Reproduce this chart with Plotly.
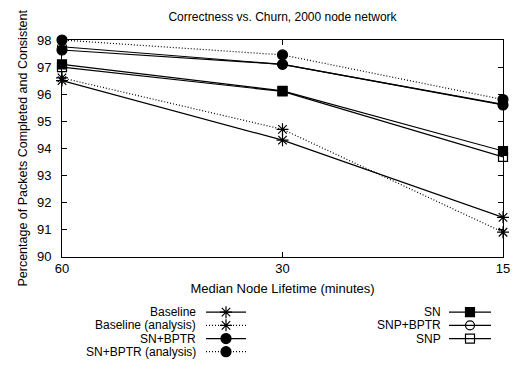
import plotly.graph_objects as go

# ---------------- data ----------------
x_labels = ["60", "30", "15"]
x_pos = [0, 1, 2]

baseline = [96.5, 94.3, 91.45]
baseline_analysis = [96.6, 94.7, 90.9]
sn_bptr = [97.63, 97.1, 95.6]
sn_bptr_analysis = [98.0, 97.45, 95.8]
sn = [97.1, 96.12, 93.9]
snp_bptr = [97.75, 97.1, 95.62]
snp = [97.0, 96.1, 93.68]

y_ticks = [90, 91, 92, 93, 94, 95, 96, 97, 98]

DOT = "1px,2px"
series = [
    # name, values, dash, symbol, size
    ("Baseline", baseline, "solid", "asterisk-open", 10),
    ("Baseline (analysis)", baseline_analysis, DOT, "asterisk-open", 10),
    ("SN+BPTR", sn_bptr, "solid", "circle", 10),
    ("SN+BPTR (analysis)", sn_bptr_analysis, DOT, "circle", 10),
    ("SN", sn, "solid", "square", 9),
    ("SNP+BPTR", snp_bptr, "solid", "circle-open", 9),
    ("SNP", snp, "solid", "square-open", 9),
]

# ---------------- layout constants (pixels) ----------------
W, H = 512, 368
L, R, T = 62, 9, 40
PLOT_BOTTOM = 262
plot_h_total = H - T
y_dom_low = (H - PLOT_BOTTOM) / plot_h_total

FONT = "Liberation Sans, Arial, Helvetica, sans-serif"

fig = go.Figure()

for name, vals, dash, sym, size in series:
    fig.add_trace(go.Scatter(
        x=x_pos, y=vals, mode="lines+markers", name=name,
        line=dict(color="black", width=1.2, dash=dash),
        marker=dict(symbol=sym, size=size, color="black",
                    line=dict(color="black", width=1.2)),
        showlegend=False, cliponaxis=False,
        xaxis="x", yaxis="y",
    ))

# ---------------- custom legend (text left, sample right) ----------------
left_col = {"text_right": 198, "line": (206, 246), "rows": [319, 332.5, 346, 359.5]}
right_col = {"text_right": 443, "line": (449, 491), "rows": [319, 332.5, 346]}
left_items = series[:4]
right_items = series[4:]

for col, items in ((left_col, left_items), (right_col, right_items)):
    x0, x1 = col["line"]
    xm = (x0 + x1) / 2
    for (name, vals, dash, sym, size), yy in zip(items, col["rows"]):
        fig.add_trace(go.Scatter(
            x=[x0, x1], y=[yy, yy], mode="lines",
            line=dict(color="black", width=1.2, dash=dash),
            showlegend=False, hoverinfo="skip", xaxis="x2", yaxis="y2",
        ))
        fig.add_trace(go.Scatter(
            x=[xm], y=[yy], mode="markers",
            marker=dict(symbol=sym, size=size, color="black",
                        line=dict(color="black", width=1.2)),
            showlegend=False, hoverinfo="skip", xaxis="x2", yaxis="y2",
        ))
        fig.add_annotation(
            x=col["text_right"], y=yy, xref="x2", yref="y2",
            text=name, showarrow=False, xanchor="right", yanchor="middle",
            font=dict(family=FONT, size=12, color="black"),
        )

fig.update_layout(
    width=W, height=H,
    margin=dict(l=L, r=R, t=T, b=0),
    paper_bgcolor="white", plot_bgcolor="white",
    font=dict(family=FONT, size=13, color="black"),
    title=dict(text="Correctness vs. Churn, 2000 node network",
               x=(L + (W - R)) / 2 / W, xanchor="center",
               y=1 - 17 / H, yanchor="middle",
               font=dict(family=FONT, size=12, color="black")),
    xaxis=dict(
        domain=[0, 1], range=[0, 2],
        tickmode="array", tickvals=x_pos, ticktext=x_labels,
        ticks="inside", ticklen=5, tickcolor="black",
        showline=True, linecolor="black", linewidth=1, mirror="ticks",
        showgrid=False, zeroline=False,
        title=dict(text="Median Node Lifetime (minutes)", standoff=8,
                   font=dict(family=FONT, size=13)),
        tickfont=dict(family=FONT, size=13),
    ),
    yaxis=dict(
        domain=[y_dom_low, 1], range=[90, 98],
        tickmode="array", tickvals=y_ticks,
        ticks="inside", ticklen=5, tickcolor="black",
        showline=True, linecolor="black", linewidth=1, mirror="ticks",
        showgrid=False, zeroline=False,
        ticklabelstandoff=7,
        title=dict(text="Percentage of Packets Completed and Consistent",
                   standoff=6, font=dict(family=FONT, size=12.5)),
        tickfont=dict(family=FONT, size=13),
    ),
    xaxis2=dict(domain=[0, 1], range=[L, W - R], visible=False,
                fixedrange=True),
    yaxis2=dict(domain=[0, y_dom_low], range=[H, PLOT_BOTTOM], visible=False,
                fixedrange=True),
)

fig.write_html("out.html")
